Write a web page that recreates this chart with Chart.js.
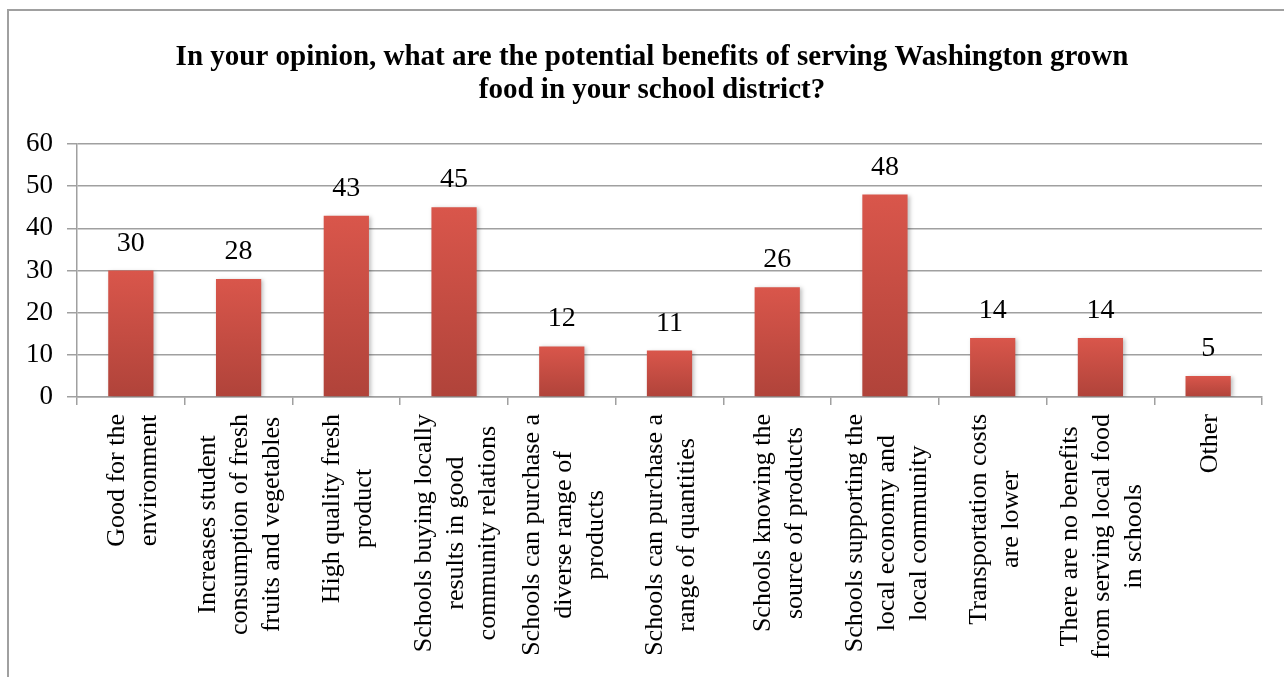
<!DOCTYPE html>
<html>
<head>
<meta charset="utf-8">
<title>Washington grown food benefits</title>
<script src="https://cdn.jsdelivr.net/npm/chart.js@4.4.1/dist/chart.umd.min.js"></script>
<style>
  html, body { margin: 0; padding: 0; background: #fff; overflow: hidden; }
  #frame { position: absolute; left: 7px; top: 9px; width: 1400px; height: 800px; border: 2px solid #a0a0a0; }
  #wrap { position: absolute; left: 0; top: 0; width: 1284px; height: 677px; }
</style>
</head>
<body>
<div id="frame"></div>
<div id="wrap"><canvas id="benefitsChart"></canvas></div>
<script>
// survey answers, one entry per bar (each label split into its display lines)
const categories = [
  ["Good for the", "environment"],
  ["Increases student", "consumption of fresh", "fruits and vegetables"],
  ["High quality fresh", "product"],
  ["Schools buying locally", "results in good", "community relations"],
  ["Schools can purchase a", "diverse range of", "products"],
  ["Schools can purchase a", "range of quantities"],
  ["Schools knowing the", "source of products"],
  ["Schools supporting the", "local economy and", "local community"],
  ["Transportation costs", "are lower"],
  ["There are no benefits", "from serving local food", "in schools"],
  ["Other"]
];
const responses = [30, 28, 43, 45, 12, 11, 26, 48, 14, 14, 5];

const yMin = 0;
const yMax = 60;
const yStep = 10;

const titleLines = [
  "In your opinion, what are the potential benefits of serving Washington grown",
  "food in your school district?"
];

const serif = "'Liberation Serif', 'Times New Roman', serif";
const gridGray = "#a0a0a0";

// each bar gets its own top-to-bottom red gradient
const barFill = (context) => {
  const chart = context.chart;
  const y = chart.scales.y;
  if (!chart.chartArea || !y) return "#d5534a";
  const value = responses[context.dataIndex];
  const top = y.getPixelForValue(value);
  const bottom = y.getPixelForValue(0);
  if (!isFinite(top) || bottom - top < 1) return "#d5534a";
  const g = chart.ctx.createLinearGradient(0, top, 0, bottom);
  g.addColorStop(0, "#d9564b");
  g.addColorStop(1, "#b0433a");
  return g;
};

// soft drop shadow behind the bars
const barShadow = {
  id: "barShadow",
  beforeDatasetsDraw(chart) {
    const ctx = chart.ctx;
    ctx.save();
    ctx.shadowColor = "rgba(0, 0, 0, 0.25)";
    ctx.shadowBlur = 4;
    ctx.shadowOffsetX = 2;
    ctx.shadowOffsetY = 1;
  },
  afterDatasetsDraw(chart) {
    chart.ctx.restore();
  }
};

// value printed above each bar
const valueLabels = {
  id: "valueLabels",
  afterDatasetsDraw(chart) {
    const ctx = chart.ctx;
    const meta = chart.getDatasetMeta(0);
    const data = chart.data.datasets[0].data;
    ctx.save();
    ctx.font = `28px ${serif}`;
    ctx.fillStyle = "#000";
    ctx.textAlign = "center";
    ctx.textBaseline = "alphabetic";
    meta.data.forEach((bar, i) => {
      ctx.fillText(String(data[i]), bar.x, bar.y - 20);
    });
    ctx.restore();
  }
};

// rotated category names, lines centred on each other
const categoryLabels = {
  id: "categoryLabels",
  afterDraw(chart) {
    const x = chart.scales.x;
    const ctx = chart.ctx;
    const lineHeight = 32;
    ctx.save();
    ctx.font = `26px ${serif}`;
    ctx.fillStyle = "#000";
    ctx.textAlign = "center";
    ctx.textBaseline = "middle";
    chart.data.labels.forEach((lines, i) => {
      const cx = x.getPixelForValue(i);
      const widest = Math.max(...lines.map(l => ctx.measureText(l).width));
      ctx.save();
      ctx.translate(cx + 2, x.top + 17);
      ctx.rotate(-Math.PI / 2);
      lines.forEach((line, j) => {
        ctx.fillText(line, -widest / 2, (j - (lines.length - 1) / 2) * lineHeight);
      });
      ctx.restore();
    });
    ctx.restore();
  }
};

// two-line bold heading in the space kept free by layout.padding.top
const heading = {
  id: "heading",
  afterDraw(chart) {
    const ctx = chart.ctx;
    ctx.save();
    ctx.font = `bold 29px ${serif}`;
    ctx.fillStyle = "#000";
    ctx.textAlign = "center";
    ctx.textBaseline = "middle";
    const cx = chart.width / 2 + 10;
    titleLines.forEach((line, i) => {
      ctx.fillText(line, cx, 58 + i * 33);
    });
    ctx.restore();
  }
};

new Chart(document.getElementById("benefitsChart"), {
  type: "bar",
  data: {
    labels: categories,
    datasets: [{
      data: responses,
      backgroundColor: barFill,
      borderWidth: 0,
      categoryPercentage: 1,
      barPercentage: 0.42
    }]
  },
  options: {
    responsive: true,
    maintainAspectRatio: false,
    animation: false,
    layout: { padding: { left: 0, right: 22, top: 144, bottom: 0 } },
    plugins: {
      legend: { display: false },
      tooltip: { enabled: false },
      title: { display: false }
    },
    scales: {
      x: {
        grid: { offset: true, drawOnChartArea: false, drawTicks: true, tickLength: 8, color: gridGray, lineWidth: 1.5 },
        border: { color: gridGray, width: 1.5 },
        ticks: { display: false },
        afterFit: (scale) => { scale.height = 280; }
      },
      y: {
        min: yMin,
        max: yMax,
        ticks: { stepSize: yStep, color: "#000", font: { family: serif, size: 27 }, padding: 14 },
        grid: { color: gridGray, lineWidth: 1.5, tickLength: 10 },
        border: { color: gridGray, width: 1.5 },
        afterFit: (scale) => { scale.width = 77; }
      }
    }
  },
  plugins: [barShadow, valueLabels, categoryLabels, heading]
});
</script>
</body>
</html>
